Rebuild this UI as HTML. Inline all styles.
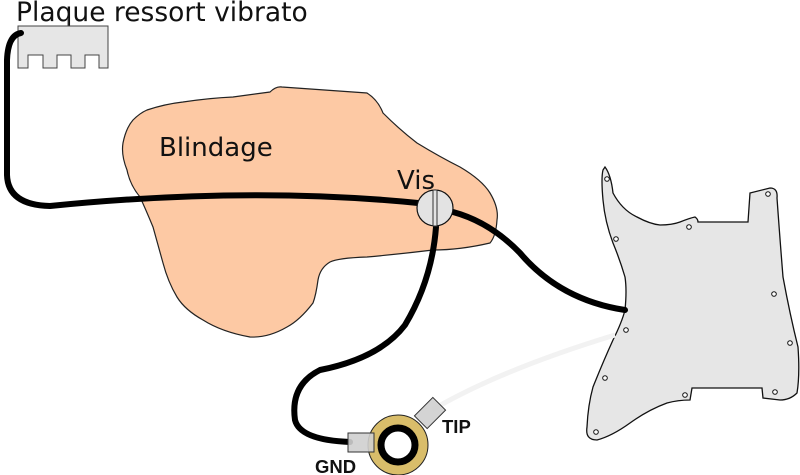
<!DOCTYPE html>
<html><head><meta charset="utf-8"><style>
html,body{margin:0;padding:0;background:#fff;}
svg{display:block;}
</style></head><body>
<svg width="800" height="475" viewBox="0 0 800 475" xmlns="http://www.w3.org/2000/svg" font-family="Liberation Sans, DejaVu Sans, sans-serif">
<!-- Blindage -->
<path d="M270,92 Q276,86 282,87 L367,93 Q378,100 383,113 Q400,130 417,143 Q440,157 460,167 Q482,180 490,193 Q499,208 497,220 Q496,236 490,243 Q460,250 433,250 Q400,254 367,257 Q338,258 330,262 Q320,268 318,280 Q316,295 313,303 Q300,320 287,327 Q268,338 250,337 Q222,332 203,320 Q185,310 177,297 Q168,282 163,263 Q158,245 153,227 Q146,210 140,197 Q130,185 127,170 Q121,155 123,143 Q126,128 133,120 Q140,113 147,110 Q165,104 183,102 Q210,98 233,97 Z" fill="#fdc9a4" stroke="#222" stroke-width="1.2"/>
<text x="159" y="156" font-size="26" fill="#111" font-family="DejaVu Sans, sans-serif">Blindage</text>
<text x="397" y="189" font-size="26" fill="#111" font-family="DejaVu Sans, sans-serif">Vis</text>
<!-- Pickguard -->
<path d="M605,167 Q611,175 613,193 Q622,210 637,217 Q650,224 660,225 Q672,225 680,222 Q690,218 695,217 Q698,219 698,222 L748,222 L750,193 L770,188 Q778,188 777,198 Q780,240 783,277 Q790,315 798,347 Q800,375 797,393 Q790,400 780,400 L763,398 L762,388 L692,388 L690,400 Q678,400 667,403 Q648,410 630,423 Q612,436 597,440 Q585,440 587,427 Q588,405 593,387 Q603,362 613,340 Q622,322 625,310 Q627,290 625,277 Q620,260 613,243 Q605,222 603,200 Q601,178 603,170 Z" fill="#e6e6e6" stroke="#111" stroke-width="1.3"/>
<g fill="#fff" stroke="#111" stroke-width="1">
<circle cx="607" cy="179" r="2.3"/><circle cx="616" cy="239" r="2.3"/><circle cx="689" cy="227" r="2.3"/><circle cx="768" cy="194" r="2.3"/><circle cx="774" cy="294" r="2.3"/><circle cx="790" cy="343" r="2.3"/><circle cx="775" cy="392" r="2.3"/><circle cx="685" cy="395" r="2.3"/><circle cx="626" cy="330" r="2.3"/><circle cx="605" cy="378" r="2.3"/><circle cx="596" cy="432" r="2.3"/>
</g>
<!-- faint tip wire -->
<path d="M432,410 Q500,370 615,335" fill="none" stroke="#f2f2f2" stroke-width="5"/>
<!-- Plaque -->
<text x="16" y="21" font-size="26.5" fill="#111" font-family="DejaVu Sans, sans-serif">Plaque ressort vibrato</text>
<line x1="68" y1="18" x2="68" y2="26" stroke="#444" stroke-width="1"/>
<path d="M18,26 L108,26 L108,68 L99,68 L99,55 L85,55 L85,68 L71,68 L71,55 L57,55 L57,68 L43,68 L43,55 L28,55 L28,68 L18,68 Z" fill="#e6e6e6" stroke="#444" stroke-width="1"/>
<!-- wires -->
<g fill="none" stroke="#000" stroke-width="6" stroke-linecap="round">
<path d="M21,33 Q8,35 7,60 L7,175 Q8,205 50,206 Q250,186 418,203"/>
<path d="M453,212 Q490,222 520,253 Q560,300 625,310"/>
<path d="M436,227 Q432,280 405,325 Q380,358 320,370 Q290,385 295,420 Q300,440 350,442"/>
</g>
<!-- screw -->
<circle cx="435" cy="208" r="18" fill="#e3e3e3" stroke="#111" stroke-width="1.2"/>
<rect x="433" y="190" width="4" height="36" fill="#e3e3e3" stroke="#333" stroke-width="1"/>
<!-- jack -->
<circle cx="398" cy="445" r="30" fill="#d9bd6a" stroke="#222" stroke-width="1"/>
<circle cx="398" cy="445" r="17" fill="#fff" stroke="#000" stroke-width="7"/>
<rect x="348" y="433" width="26" height="19" fill="#cfcfcf" stroke="#333" stroke-width="1" fill-opacity="0.9"/>
<rect x="417" y="404" width="26" height="18" fill="#cfcfcf" stroke="#333" stroke-width="1" transform="rotate(-45 430 413)" fill-opacity="0.9"/>
<text x="442" y="433" font-size="18.5" font-weight="bold" fill="#111">TIP</text>
<text x="315" y="473" font-size="18.5" font-weight="bold" fill="#111">GND</text>
</svg>
</body></html>
